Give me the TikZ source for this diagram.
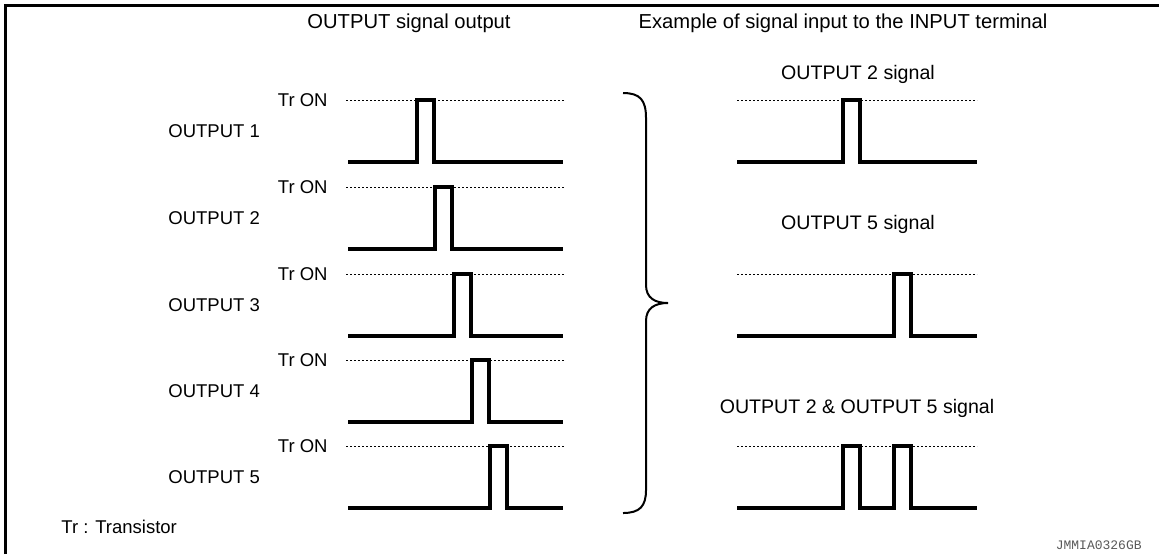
\documentclass[tikz,border=0pt]{standalone}
\usepackage{fontspec}
\setmainfont{Liberation Sans}
\setmonofont{Liberation Mono}
\usetikzlibrary{positioning}

\tikzset{
    wave/.style={line width=2pt, line join=miter},
    level/.style={line width=0.5pt, dash pattern=on 1.2pt off 0.8pt},
    lbl/.style={inner sep=0pt, font=\fontsize{9.25}{11}\selectfont},
    sig/.style={inner sep=0pt, font=\fontsize{9.8}{11}\selectfont},
    ttl/.style={inner sep=0pt, font=\fontsize{10.1}{12}\selectfont}
}

\begin{document}
\begin{tikzpicture}[x=0.5pt, y=-0.5pt]
    \useasboundingbox (0,0) rectangle (1159,554);

    % Frame
    \draw [line width=1.5pt] (5,554) -- (5,5) -- (1159,5);

    % Titles
    \node [ttl] (ttlout) at (409,23) {OUTPUT signal output};
    \node [ttl] (ttlin) at (843,23) {Example of signal input to the INPUT terminal};

    % Output labels
    \node [lbl, anchor=west] (out1) at (168,131) {OUTPUT 1};
    \node [lbl, anchor=west] (out2) at (168,218) {OUTPUT 2};
    \node [lbl, anchor=west] (out3) at (168,305) {OUTPUT 3};
    \node [lbl, anchor=west] (out4) at (168,391) {OUTPUT 4};
    \node [lbl, anchor=west] (out5) at (168,477) {OUTPUT 5};

    % Tr ON levels
    \node [lbl, anchor=east] (tron1) at (328,100) {Tr ON};
    \node [lbl, anchor=east] (tron2) at (328,187) {Tr ON};
    \node [lbl, anchor=east] (tron3) at (328,274) {Tr ON};
    \node [lbl, anchor=east] (tron4) at (328,360) {Tr ON};
    \node [lbl, anchor=east] (tron5) at (328,446) {Tr ON};
    \draw [level] (346,100) -- (565,100);
    \draw [level] (346,187) -- (565,187);
    \draw [level] (346,274) -- (565,274);
    \draw [level] (346,360) -- (565,360);
    \draw [level] (346,446) -- (565,446);

    % Output pulses
    \draw [wave] (348,162) -- (417,162) -- (417,100) -- (434,100) -- (434,162) -- (563,162);
    \draw [wave] (348,249) -- (435,249) -- (435,187) -- (452,187) -- (452,249) -- (563,249);
    \draw [wave] (348,336) -- (454,336) -- (454,274) -- (471,274) -- (471,336) -- (563,336);
    \draw [wave] (348,422) -- (472,422) -- (472,360) -- (489,360) -- (489,422) -- (563,422);
    \draw [wave] (348,508) -- (490,508) -- (490,446) -- (507,446) -- (507,508) -- (563,508);

    % Brace
    \draw [line width=1pt] (623,93) .. controls (640,93) and (646,100) .. (646,118)
        -- (646,285) .. controls (646,298) and (655,303) .. (668,303)
        .. controls (655,303) and (646,308) .. (646,321)
        -- (646,490) .. controls (646,506) and (640,513) .. (623,513);

    % Input examples
    \node [sig] (in2) at (858,74) {OUTPUT 2 signal};
    \node [sig] (in5) at (858,224) {OUTPUT 5 signal};
    \node [sig] (in25) at (857,408) {OUTPUT 2 \& OUTPUT 5 signal};
    \draw [level] (737,100) -- (977,100);
    \draw [level] (737,274) -- (977,274);
    \draw [level] (737,446) -- (977,446);
    \draw [wave] (737,162) -- (843,162) -- (843,100) -- (860,100) -- (860,162) -- (977,162);
    \draw [wave] (737,336) -- (894,336) -- (894,274) -- (911,274) -- (911,336) -- (977,336);
    \draw [wave] (737,508) -- (843,508) -- (843,446) -- (860,446) -- (860,508)
        -- (894,508) -- (894,446) -- (911,446) -- (911,508) -- (977,508);

    % Notes
    \node [lbl, anchor=west] (note) at (61,527) {Tr : Transistor};
    \node [inner sep=0pt, anchor=east, text=black!65, font=\ttfamily\fontsize{6.5}{7}\selectfont] (code) at (1142,545) {JMMIA0326GB};
\end{tikzpicture}
\end{document}
